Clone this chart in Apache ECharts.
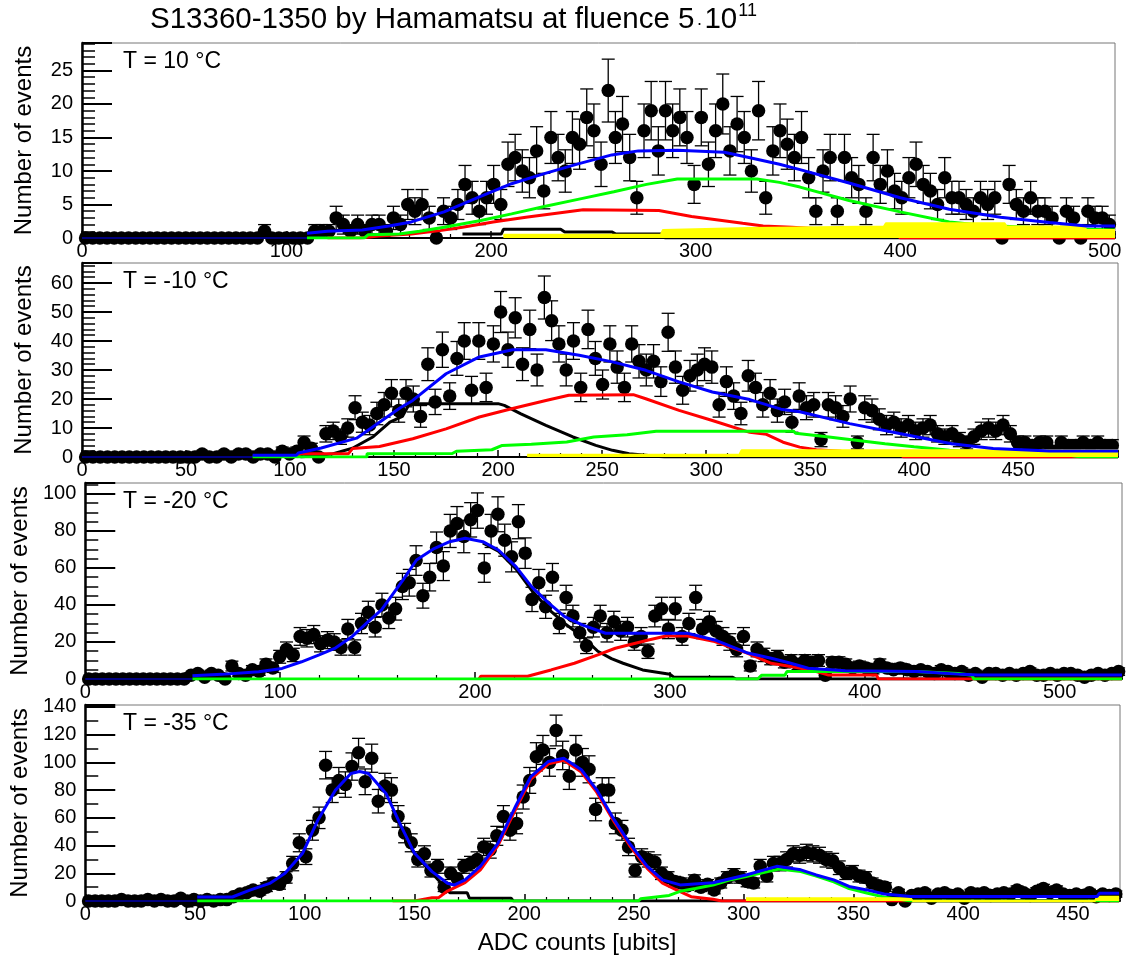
<!DOCTYPE html>
<html>
<head>
<meta charset="utf-8">
<title>S13360-1350 by Hamamatsu</title>
<script src="https://cdn.jsdelivr.net/npm/echarts@6/dist/echarts.min.js"></script>
<style>
html, body { margin: 0; padding: 0; background: #fff; }
#main { width: 1133px; height: 957px; }
</style>
</head>
<body>
<div id="main"></div>
<script>
// ---- data: histogram bin contents (bin width per panel) ----
var p1BinWidth = 3.5;
var p1Counts = [0,0,0,0,0,0,0,0,0,0,0,0,0,0,0,0,0,0,0,0,0,0,0,0,0,
  1,0,0,0,0,0,0,
  1,1,1,3,2,1,2,1,2,2,
  1,3,2,5,4,5,3,0,4,3,
  5,8,6,4,6,8,5,11,12,10,
  9,13,7,15,12,10,15,14,18,16,
  11,22,15,17,12,6,16,19,13,19,
  16,18,15,8,18,11,16,20,13,17,
  15,10,19,6,13,16,14,12,15,9,
  4,10,12,4,12,9,8,4,12,8,
  10,7,6,9,11,8,7,5,9,6,
  6,5,4,6,5,6,0,8,5,4,
  6,4,4,3,0,4,3,0,4,3,
  3,2];

var p2BinWidth = 3.5;
var p2Counts = [0,0,0,0,0,0,0,0,0,0,0,0,0,0,0,0,
  1,0,0,1,0,1,1,0,1,1,
  0,2,1,2,5,3,0,8,9,7,
  10,17,12,11,15,18,22,16,22,20,
  14,32,19,37,21,34,40,23,40,24,
  39,50,37,48,32,44,30,55,47,39,
  30,40,24,44,34,25,39,31,24,39,
  33,30,33,26,43,31,23,28,30,32,
  31,18,26,21,15,28,24,18,22,16,
  19,12,21,17,18,6,18,17,14,20,
  5,17,16,13,11,12,10,11,9,10,
  11,8,7,8,6,5,7,9,10,9,
  11,8,5,5,4,5,5,2,5,4,
  4,5,4,5,4,4];

var p3BinWidth = 3.5;
var p3Counts = [0,0,0,0,0,0,0,0,0,0,0,0,0,0,0,
  2,3,1,3,2,0,7,3,2,5,
  4,8,6,12,16,13,23,22,24,19,
  21,20,17,27,17,30,36,28,40,33,
  38,50,52,64,45,55,71,61,80,84,
  77,86,91,60,80,89,75,66,85,68,
  43,52,39,55,30,44,34,25,18,28,
  34,25,31,26,28,20,23,15,34,38,
  27,38,23,30,44,27,31,26,23,20,
  16,23,7,16,13,11,12,9,10,8,
  10,9,10,2,9,9,8,6,7,6,
  5,8,6,5,6,5,4,5,4,3,
  5,4,3,4,2,3,1,3,3,2,
  3,2,3,4,2,2,3,2,3,3,
  2,1,2,3,2,3,4];

var p4BinWidth = 3;
var p4Counts = [0,0,0,0,0,1,0,0,0,1,0,1,0,0,2,0,1,0,1,0,1,
  1,3,5,6,8,7,10,13,12,17,
  27,42,32,51,60,98,80,87,84,97,
  107,86,103,72,83,80,61,49,42,30,
  34,22,25,10,20,16,25,27,30,39,
  37,47,61,51,56,75,87,104,109,100,
  123,105,90,109,100,95,66,80,80,56,
  51,39,22,32,30,28,20,17,14,13,
  11,15,10,12,8,13,17,19,17,14,
  13,25,18,27,27,30,34,33,35,34,
  33,30,29,24,20,21,18,17,13,11,
  10,1,6,0,4,5,6,2,5,6,
  4,5,2,6,5,6,4,5,6,5,
  8,6,4,7,9,6,8,5,4,5,
  4,6,3,5,4,5];

// ---- fit components [adc, events] ----
var p1Navy = [[0,0],[110,0]];
var p1Blue = [[110,0.7],[120,1.0],[137,1.2],[150,1.8],[161,2.4],[177,3.9],[194,6.1],[210,8.1],[226,9.6],[243,11.1],[259,12.4],[272,13],[291,13.1],[314,12.8],[326,12],[341,11],[351,10.2],[375,8.2],[400,6],[424,4.3],[449,3.1],[473,2.3],[491,1.8],[505,1.8]];
var p1Green = [[110,0],[138,0],[140,0.5],[155,0.6],[165,1.0],[177,1.6],[195,2.6],[210,3.6],[226,4.7],[243,5.8],[260,6.9],[276,8],[291,8.8],[330,8.8],[341,8.3],[351,7.6],[375,5.6],[400,3.9],[424,2.4],[440,1.9],[470,1.5],[505,1.2]];
var p1Red = [[120,0],[136,0],[145,0.3],[161,0.6],[175,1.1],[186,1.6],[201,2.4],[217,3.1],[232,3.7],[245,4.2],[282,4.1],[298,3.2],[311,2.7],[323,2.2],[333,1.8],[347,1.6],[370,1.2],[398,0.8],[400,0],[505,0]];
var p1Black = [[186,0.6],[205,0.6],[206,1.3],[234,1.3],[236,0.9],[259,0.9],[261,0.6],[283,0.6],[285,0],[505,0]];
var p1Yellow = [[206,0.5],[283,0.5],[284,1.2],[326,1.5],[392,1.7],[393,2.2],[451,2.2],[452,1.7],[490,1.7],[491,1.2],[505,1.2]];

var p2Navy = [[0,0],[82,0]];
var p2Blue = [[82,0.6],[103,0.6],[104,1.4],[115,3.1],[132,6.5],[143,12],[153,17],[159,19.5],[175,28.7],[191,34.5],[207,37],[223,37],[239,35.1],[255,32.8],[271,29.9],[287,25.9],[303,22.4],[321,19.8],[336,16.5],[345,15.6],[369,11.5],[393,8.1],[418,4.6],[438,2.9],[465,2.1],[498,2.1]];
var p2Red = [[103,0],[105,1.1],[128,1.1],[130,2.9],[143,3.6],[159,6.3],[175,9.7],[191,13.8],[207,16.7],[223,19.5],[234,21.3],[265,21.5],[271,20.1],[287,16.1],[303,12.6],[321,8.5],[329,7.8],[337,5.1],[345,3.4],[353,2.5],[365,2],[392,1.5],[395,0],[498,0]];
var p2Black = [[105,0],[120,1],[130,3],[140,7],[148,12],[154,14],[157,17.8],[161,18.4],[200,18.4],[203,17.8],[211,14.9],[223,10.9],[236,6.9],[247,4],[255,2.3],[263,1.1],[271,0.6],[280,0],[498,0]];
var p2Green = [[82,0],[137,0],[137,1.1],[178,1.2],[180,2],[197,2.5],[202,4],[216,4.4],[233,5.2],[246,6.9],[262,7.7],[276,8.9],[342,8.9],[343,8.2],[358,7],[372,5.8],[386,4.6],[400,3.5],[417,2.3],[433,1.5],[470,1.2],[480,0],[498,0]];
var p2Yellow = [[214,0.8],[316,0.8],[317,2.3],[498,2.3]];

var p3Navy = [[0,0],[55,0]];
var p3Blue = [[55,1.8],[70,2.5],[89,3.9],[101,5.7],[111,9.3],[120,13],[128,16.5],[137,23],[146,31.8],[152,37.3],[163,53.4],[170,64.3],[179,70.5],[187,74.2],[195,76],[204,74.2],[212,69.7],[221,60.7],[229,49.9],[238,40.9],[246,33.7],[255,29.2],[267,24.7],[309,24.7],[323,21.1],[340,14],[352,11.2],[362,8.5],[371,5.8],[390,4.5],[427,4],[450,2.5],[458,2.2],[532,2.2]];
var p3Red = [[202,0],[203,1.5],[227,1.5],[239,4.9],[251,8.5],[263,13],[272,16.6],[289,21.1],[298,23.2],[309,23.2],[323,20.2],[340,13.9],[352,8.5],[362,6.7],[372,4.9],[381,2.2],[406,2.2],[407,0],[532,0]];
var p3Black = [[204,73.5],[212,69],[221,59.5],[229,48],[238,37.5],[246,30],[255,23],[263,15],[270,11],[276,8.5],[286,4.9],[300,2.6],[302,1],[332,1],[334,0],[532,0]];
var p3Green = [[55,0],[345,0],[347,2],[359,2],[360,4],[426,4],[427,3],[448,3],[449,2],[455,2],[456,0],[532,0]];
var p3Yellow = [];

var p4Navy = [[0,0],[51,0]];
var p4Blue = [[51,2.9],[67,2.9],[75,7.9],[84,12.7],[91,20],[99,34.4],[106,58.5],[114,80],[121,92],[125,93.4],[129,92],[137,77.6],[144,53.7],[150,34.4],[158,21.2],[165,12.8],[168,11.5],[173,15.2],[180,25],[188,41.6],[196,68.2],[203,89.8],[211,100.7],[218,103],[226,94.7],[233,80.2],[241,58.5],[248,41.6],[256,25],[263,15.2],[271,11.6],[286,13.2],[301,18.8],[315,25],[326,22.5],[333,18.8],[341,15.2],[348,10.5],[356,8],[364,5.1],[376,3.3],[461,3.3],[462,5.6],[471,5.6]];
var p4Red = [[140,0],[150,0],[158,2.4],[161,2.4],[165,7.2],[173,13.2],[180,22.5],[188,40],[196,66],[203,88],[211,99],[218,101.5],[226,93],[233,78.5],[241,57],[248,40],[256,23.5],[263,12.8],[271,6.8],[276,3.1],[286,1.2],[290,0],[471,0]];
var p4Black = [[140,66],[150,34],[158,20],[165,8],[166,6],[174,6],[175,2],[194,2],[195,0],[471,0]];
var p4Green = [[51,0],[252,0],[253,1.6],[266,4],[271,7],[278,9],[286,11.5],[293,15],[301,17.6],[316,23],[326,21.3],[333,18],[341,13.8],[348,9],[356,5.8],[364,2.8],[376,0],[471,0]];
var p4Yellow = [[301,2],[376,2],[377,0],[460,0],[461,3],[471,3]];

var FONT = '"Liberation Sans", Arial, Helvetica, sans-serif';

var panels = [
  { counts: p1Counts, bw: p1BinWidth, xMax: 505, xInt: 100, yMax: 29.1, yInt: 5, yMinor: 5, top: 43, height: 195, right: 18, label: 'T = 10 °C',
    navy: p1Navy, black: p1Black, red: p1Red, green: p1Green, yellow: p1Yellow, blue: p1Blue },
  { counts: p2Counts, bw: p2BinWidth, xMax: 498, xInt: 50, yMax: 66.9, yInt: 10, yMinor: 5, top: 263, height: 194, right: 15, label: 'T = -10 °C',
    navy: p2Navy, black: p2Black, red: p2Red, green: p2Green, yellow: p2Yellow, blue: p2Blue },
  { counts: p3Counts, bw: p3BinWidth, xMax: 532, xInt: 100, yMax: 105.9, yInt: 20, yMinor: 4, top: 483, height: 196, right: 11, label: 'T = -20 °C',
    navy: p3Navy, black: p3Black, red: p3Red, green: p3Green, yellow: p3Yellow, blue: p3Blue },
  { counts: p4Counts, bw: p4BinWidth, xMax: 471.4, xInt: 50, yMax: 141.4, yInt: 20, yMinor: 2, top: 705, height: 196, right: 13, label: 'T = -35 °C',
    navy: p4Navy, black: p4Black, red: p4Red, green: p4Green, yellow: p4Yellow, blue: p4Blue }
];

function errBar(params, api) {
  var x = api.value(0), v = api.value(1);
  if (!(v > 0)) return;
  var e = Math.sqrt(v);
  var hi = api.coord([x, v + e]), lo = api.coord([x, v - e]);
  var hw = 6.5, st = { stroke: '#000', lineWidth: 1.3 };
  return {
    type: 'group',
    children: [
      { type: 'line', shape: { x1: hi[0], y1: hi[1], x2: lo[0], y2: lo[1] }, style: st },
      { type: 'line', shape: { x1: hi[0] - hw, y1: hi[1], x2: hi[0] + hw, y2: hi[1] }, style: st },
      { type: 'line', shape: { x1: lo[0] - hw, y1: lo[1], x2: lo[0] + hw, y2: lo[1] }, style: st }
    ]
  };
}

var grids = [], xAxes = [], yAxes = [], series = [], graphics = [];

panels.forEach(function (p, i) {
  grids.push({ left: 82, top: p.top, height: p.height, right: p.right, show: true, borderColor: '#777', borderWidth: 1 });
  xAxes.push({
    gridIndex: i, type: 'value', min: 0, max: p.xMax, interval: p.xInt,
    axisLine: { onZero: false, lineStyle: { color: '#000', width: 2 } },
    axisTick: { inside: true, length: 7, lineStyle: { color: '#000', width: 1.5 } },
    minorTick: { show: true, splitNumber: 5, length: 4, lineStyle: { color: '#000', width: 1.2 } },
    axisLabel: { color: '#000', fontSize: 20, fontFamily: FONT, margin: 3, showMaxLabel: false },
    splitLine: { show: false }
  });
  yAxes.push({
    gridIndex: i, type: 'value', min: 0, max: p.yMax, interval: p.yInt,
    name: 'Number of events', nameLocation: 'middle', nameGap: 46,
    nameTextStyle: { color: '#000', fontSize: 24, fontFamily: FONT },
    axisLine: { onZero: false, lineStyle: { color: '#000', width: 2.5 } },
    axisTick: { inside: true, length: 30, lineStyle: { color: '#000', width: 2 } },
    minorTick: { show: true, splitNumber: p.yMinor, length: 13, lineStyle: { color: '#000', width: 1.5 } },
    axisLabel: { color: '#000', fontSize: 20, fontFamily: FONT, margin: 9, showMaxLabel: false },
    splitLine: { show: false }
  });

  var pts = p.counts.map(function (c, k) { return [(k + 0.5) * p.bw, c]; });
  series.push({ type: 'custom', xAxisIndex: i, yAxisIndex: i, data: pts, renderItem: errBar, encode: { x: 0, y: 1 }, z: 2, silent: true });
  series.push({ type: 'scatter', xAxisIndex: i, yAxisIndex: i, data: pts, symbol: 'circle', symbolSize: 13.5,
    itemStyle: { color: '#000', opacity: 1 }, z: 3, silent: true });

  function addLine(data, color, width, z, area) {
    if (!data.length) return;
    var s = { type: 'line', xAxisIndex: i, yAxisIndex: i, data: data, showSymbol: false, symbol: 'none', z: z, silent: true,
      lineStyle: { color: color, width: width }, itemStyle: { color: color } };
    if (area) s.areaStyle = { color: color, opacity: 1 };
    series.push(s);
  }
  addLine(p.navy, '#000080', 2, 4);
  addLine(p.black, '#000000', 3, 5);
  addLine(p.red, '#ff0000', 3, 6);
  addLine(p.green, '#00ff00', 3, 7);
  addLine(p.yellow, '#ffff00', 2, 8, true);
  addLine(p.blue, '#0000ff', 3, 9);

  graphics.push({ type: 'text', x: 123, y: p.top + 19, z: 20,
    style: { text: p.label, fill: '#000', fontSize: 23, fontFamily: FONT, verticalAlign: 'middle' } });
});

// title with superscript
var titleMain = 'S13360-1350 by Hamamatsu at fluence 5';
var ctx = document.createElement('canvas').getContext('2d');
ctx.font = '29.5px ' + FONT;
var wMain = ctx.measureText(titleMain).width;
var wTen = ctx.measureText('10').width;
var tx = 150;
graphics.push({ type: 'text', x: tx, y: 20, style: { text: titleMain, fill: '#000', fontSize: 29.5, fontFamily: FONT, verticalAlign: 'middle' } });
graphics.push({ type: 'text', x: tx + wMain + 2, y: 24, style: { text: '·', fill: '#000', fontSize: 18, fontFamily: FONT, verticalAlign: 'middle' } });
graphics.push({ type: 'text', x: tx + wMain + 10, y: 20, style: { text: '10', fill: '#000', fontSize: 29.5, fontFamily: FONT, verticalAlign: 'middle' } });
graphics.push({ type: 'text', x: tx + wMain + 10 + wTen + 1, y: 11, style: { text: '11', fill: '#000', fontSize: 18, fontFamily: FONT, verticalAlign: 'middle' } });

graphics.push({ type: 'text', x: 577, y: 943, style: { text: 'ADC counts [ubits]', fill: '#000', fontSize: 24, fontFamily: FONT, align: 'center', verticalAlign: 'middle' } });

var chart = echarts.init(document.getElementById('main'));
chart.setOption({
  animation: false,
  backgroundColor: '#fff',
  grid: grids,
  xAxis: xAxes,
  yAxis: yAxes,
  series: series,
  graphic: graphics
});
</script>
</body>
</html>
